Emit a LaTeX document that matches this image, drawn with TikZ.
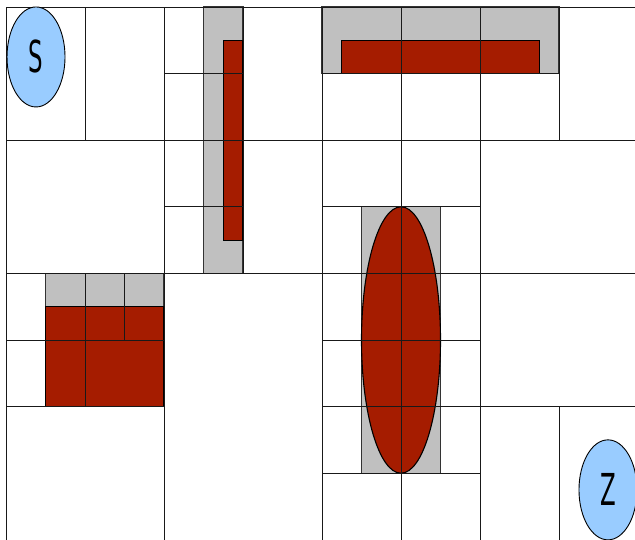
\documentclass[tikz,border=0pt]{standalone}
\usepackage{fontspec}
\setmainfont{DejaVu Sans}
\usepackage{graphicx}
\usetikzlibrary{shapes.geometric}
\definecolor{obsred}{HTML}{A51C00}
\definecolor{obsgrey}{HTML}{C0C0C0}
\definecolor{goalblue}{HTML}{99CCFF}
\begin{document}
\begin{tikzpicture}[x=79pt,y=-66.6pt,
  gridline/.style={draw=black!90,line width=1pt},
  greybox/.style={fill=obsgrey,draw=black!80,line width=1.1pt},
  redbox/.style={fill=obsred,draw=black,line width=1.1pt},
  endpoint/.style={ellipse,fill=goalblue,draw=black,line width=0.9pt,minimum width=58pt,minimum height=100pt,inner sep=0pt}]
\fill[white] (-6pt,7pt) rectangle (629pt,-532pt);
\useasboundingbox (-6pt,7pt) rectangle (629pt,-532pt);
% obstacles
\draw[greybox] (2.5,0) rectangle (3,4);
\draw[redbox] (2.75,0.5) rectangle (3,3.5);
\draw[greybox] (4,0) rectangle (7,1);
\draw[redbox] (4.25,0.5) rectangle (6.75,1);
\draw[greybox] (0.5,4) rectangle (2,4.5);
\draw[redbox] (0.5,4.5) rectangle (2,6);
\draw[greybox] (4.5,3) rectangle (5.5,7);
\draw[redbox] (5,5) ellipse [x radius=39.5pt, y radius=133.2pt];
% grid lines
\draw[gridline] (0,0) -- (8,0);
\draw[gridline] (2,1) -- (3,1) (4,1) -- (7,1);
\draw[gridline] (0,2) -- (8,2);
\draw[gridline] (2,3) -- (3,3) (4,3) -- (6,3);
\draw[gridline] (0,4) -- (8,4);
\draw[gridline] (0,5) -- (2,5) (4,5) -- (6,5);
\draw[gridline] (0,6) -- (2,6) (4,6) -- (8,6);
\draw[gridline] (4,7) -- (6,7);
\draw[gridline] (0,0) -- (0,8);
\draw[gridline] (1,0) -- (1,2) (1,4) -- (1,6);
\draw[gridline] (1.5,4) -- (1.5,5);
\draw[gridline] (2,0) -- (2,8);
\draw[gridline] (3,0) -- (3,4);
\draw[gridline] (4,0) -- (4,8);
\draw[gridline] (5,0) -- (5,8);
\draw[gridline] (6,0) -- (6,8);
\draw[gridline] (7,0) -- (7,2) (7,6) -- (7,8);
% start and goal
\node[endpoint] (S) at (0.38,0.75) {\scalebox{0.52}[1]{\fontsize{44}{44}\selectfont S}};
\node[endpoint] (Z) at (7.62,7.25) {\scalebox{0.52}[1]{\fontsize{44}{44}\selectfont Z}};
\end{tikzpicture}
\end{document}
